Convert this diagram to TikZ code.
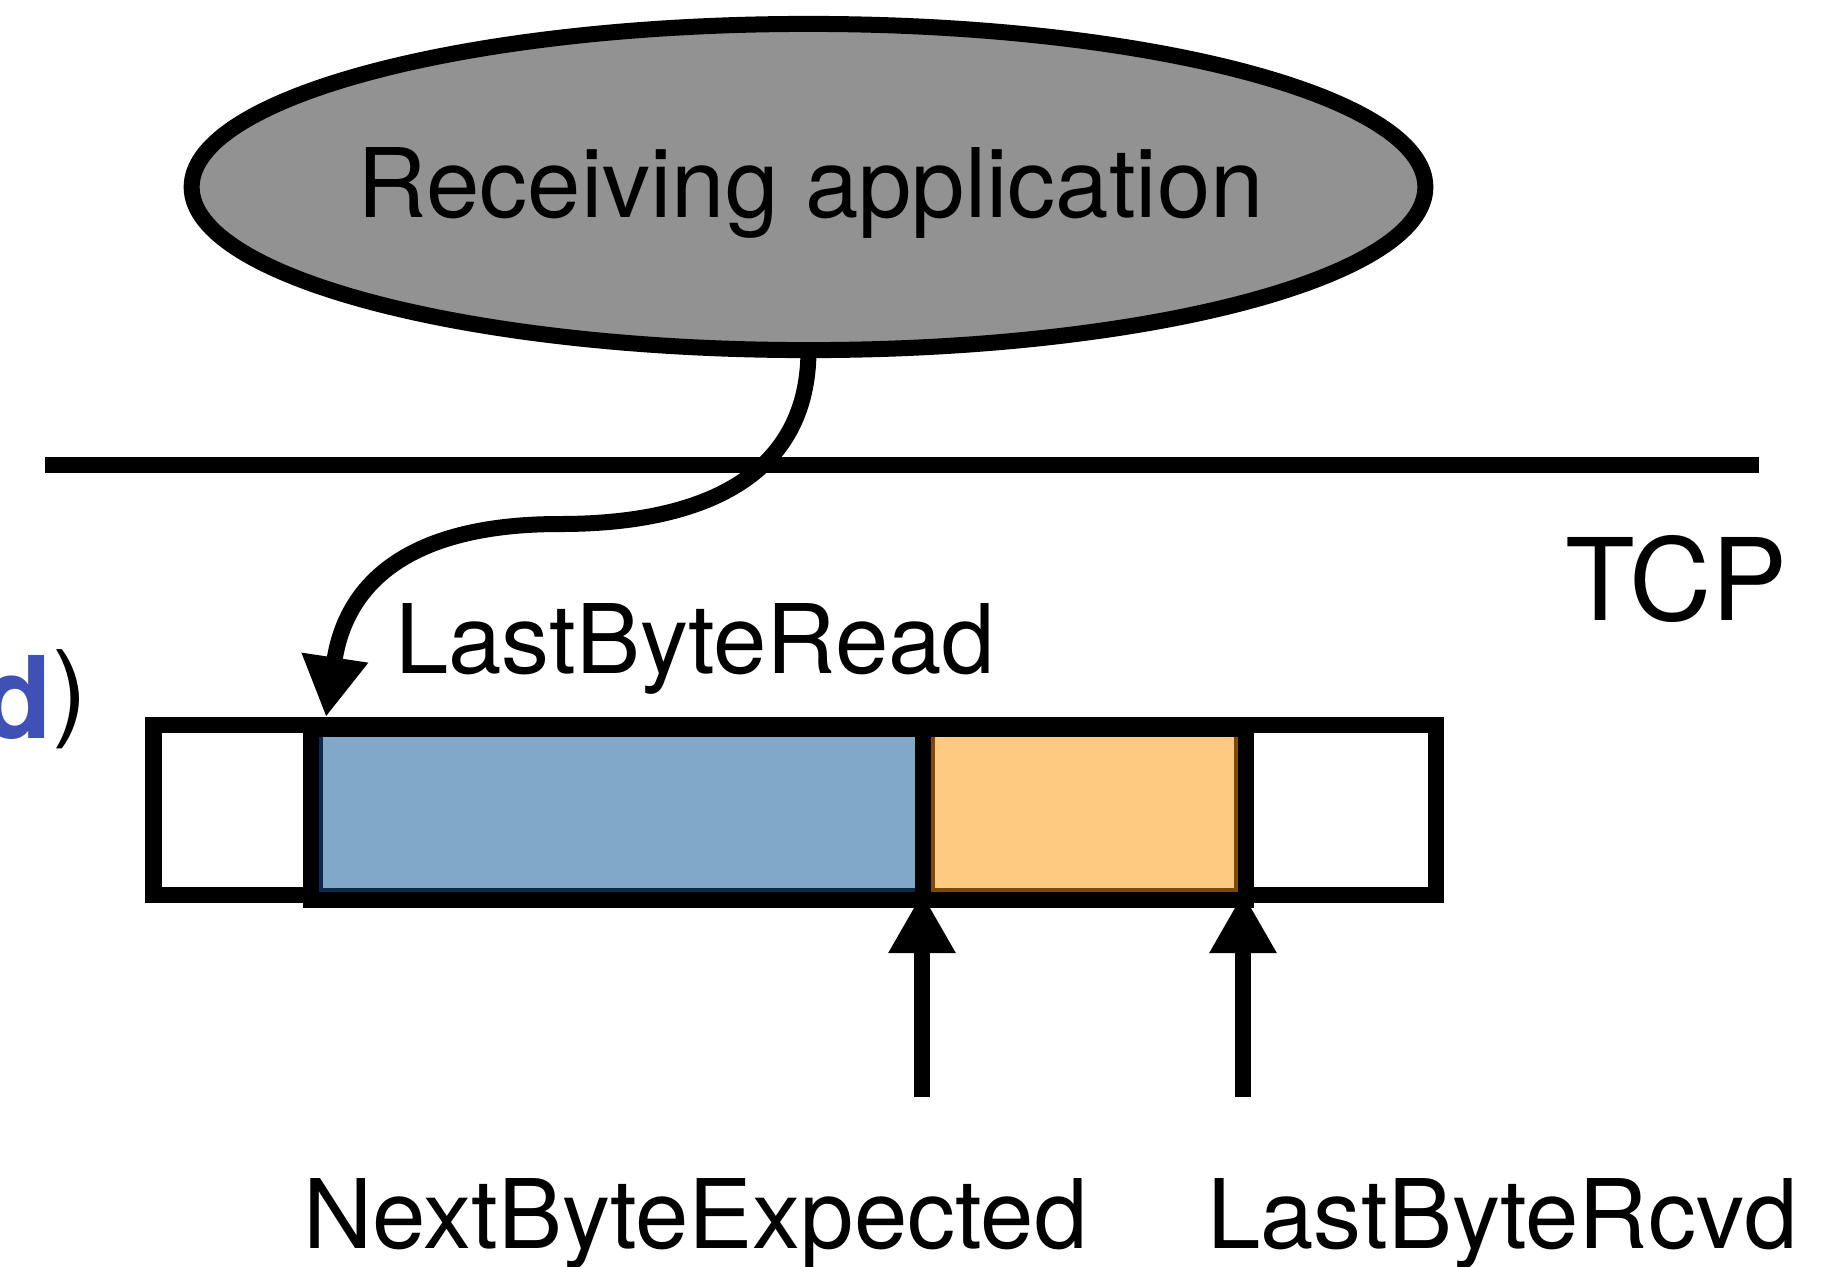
\documentclass[tikz,border=0pt]{standalone}
\usepackage{fontspec}
\setmainfont{TeX Gyre Heros}
\usetikzlibrary{arrows.meta,shapes.geometric}
\definecolor{appgray}{HTML}{929292}
\definecolor{bluefill}{HTML}{81A8C9}
\definecolor{blueedge}{HTML}{0C2B4A}
\definecolor{orangefill}{HTML}{FEC981}
\definecolor{orangeedge}{HTML}{7B4A0B}
\definecolor{cutblue}{HTML}{4051B5}
\begin{document}
\begin{tikzpicture}[x=0.01cm,y=-0.01cm,
  thickline/.style={line width=0.16cm},
  conn/.style={line width=0.16cm,-{Triangle[length=0.6cm,width=0.63cm]}},
  lbl/.style={font=\fontsize{27.3pt}{32pt}\selectfont,inner sep=0pt,outer sep=0pt},
  biglbl/.style={font=\fontsize{32.4pt}{38pt}\selectfont,inner sep=0pt,outer sep=0pt}]
\useasboundingbox (0,0) rectangle (1839,1266);
\clip (0,0) rectangle (1839,1266);

% application ellipse
\node[ellipse,draw,thickline,fill=appgray,minimum width=12.33cm,minimum height=3.26cm,
      inner sep=0pt,outer sep=0pt] (app) at (808.5,187) {};
\node[lbl,anchor=base] (applabel) at (811,217) {Receiving application};

% layer separator
\coordinate (sepL) at (45,465);
\coordinate (sepR) at (1759,465);
\draw[thickline] (sepL) -- (sepR);
\node[biglbl,anchor=base west] (tcp) at (1565,620) {TCP};

% cut-off label at the left edge
\node[anchor=base east,inner sep=0pt] (cutlabel) at (88,738)
  {{\fontsize{32.4pt}{38pt}\selectfont\bfseries\color{cutblue}d}\raisebox{0.12cm}{\fontsize{30pt}{36pt}\selectfont)}};

% receive buffer
\draw[thickline,fill=white] (153.5,725) rectangle (1436,895);
\draw[draw=blueedge,fill=bluefill,line width=0.04cm] (321,733) rectangle (917,890);
\draw[draw=orangeedge,fill=orangefill,line width=0.04cm] (933,733) rectangle (1236,890);
\draw[thickline] (311,729) rectangle (1246,900);
\draw[thickline] (923,729) -- (923,900);

% labels
\node[lbl,anchor=base west] (lbrlabel) at (395,673) {LastByteRead};
\node[lbl,anchor=base west] (nbelabel) at (303,1248) {NextByteExpected};
\node[lbl,anchor=base west] (rcvdlabel) at (1207,1248) {LastByteRcvd};

% pointers
\coordinate (readptr) at (326,717);
\coordinate (nbetip) at (922,893);
\coordinate (nbetail) at (922,1097);
\coordinate (rcvdtip) at (1243,893);
\coordinate (rcvdtail) at (1243,1097);
\draw[conn] (nbetail) -- (nbetip);
\draw[conn] (rcvdtail) -- (rcvdtip);
\draw[conn] (app.south) .. controls +(0,128) and (700,524) .. (560,524)
  .. controls (400,524) and (345,590) .. (readptr);
\end{tikzpicture}
\end{document}
